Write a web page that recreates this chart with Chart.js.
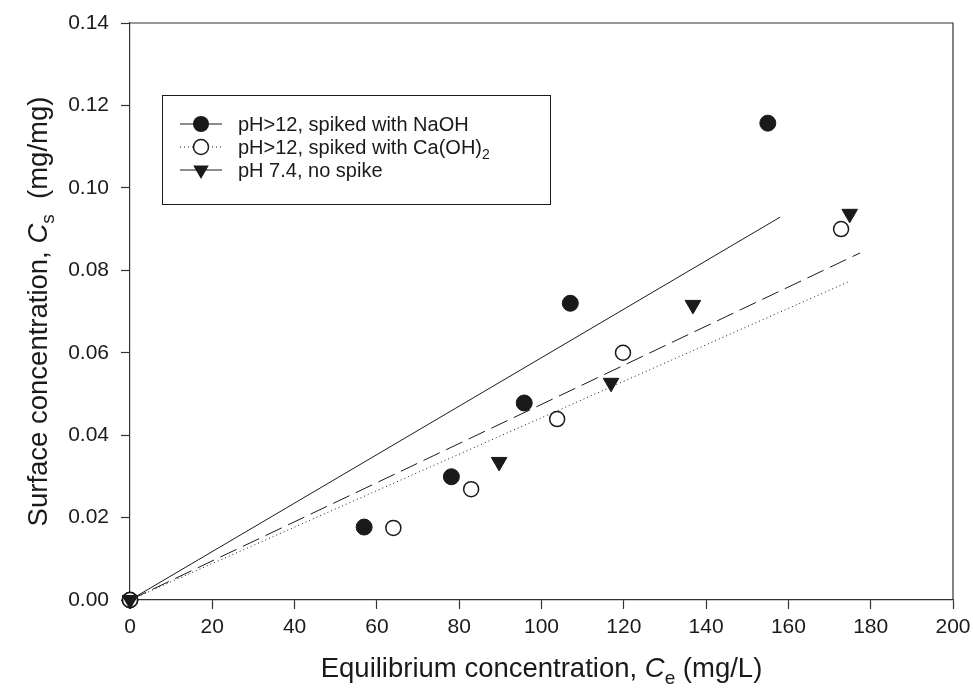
<!DOCTYPE html>
<html lang="en">
<head>
    <meta charset="UTF-8">
    <title>Surface vs equilibrium concentration</title>
    <script src="https://cdn.jsdelivr.net/npm/chart.js"></script>
    <style>
        body { margin: 0; background: #fff; }
    </style>
</head>
<body>
    <canvas id="isoChart" width="973" height="692"></canvas>
    <script>
        // measured points (Ce in mg/L, Cs in mg/mg)
        const naohX = [0, 56.9, 78.1, 95.8, 107.0, 155.0];
        const naohY = [0, 0.0177, 0.0299, 0.0478, 0.0720, 0.1157];
        const caX = [0, 64.0, 82.9, 103.8, 119.8, 172.8];
        const caY = [0, 0.0175, 0.0269, 0.0439, 0.0600, 0.0900];
        const neutX = [0, 89.7, 116.9, 136.8, 174.9];
        const neutY = [0, 0.0335, 0.0527, 0.0716, 0.0937];

        // linear fits through the origin (start / end of each line)
        const naohFitX = [0, 158.0];
        const naohFitY = [0, 0.0929];
        const caFitX = [0, 175.0];
        const caFitY = [0, 0.0774];
        const neutFitX = [0, 177.4];
        const neutFitY = [0, 0.0842];

        const legendLabels = ["pH>12, spiked with NaOH", "pH>12, spiked with Ca(OH)", "pH 7.4, no spike"];

        // axis ranges
        const xRange = [0, 200, 20];
        const yRange = [0, 0.14, 0.02];

        const FONT = "'Liberation Sans', Arial, sans-serif";
        const INK = "#1a1a1a";

        function pts(xs, ys) {
            return xs.map((x, i) => ({ x: x, y: ys[i] }));
        }

        // draws text made of pieces: [text, style] where style is "", "i" or "sub"
        function drawPieces(ctx, pieces, size, x, y, align) {
            const fontFor = (st) => st === "i" ? "italic " + size + "px " + FONT
                : st === "sub" ? Math.round(size * 0.7) + "px " + FONT
                : size + "px " + FONT;
            let total = 0;
            pieces.forEach(([t, st]) => { ctx.font = fontFor(st); total += ctx.measureText(t).width; });
            let cx = align === "center" ? x - total / 2 : x;
            ctx.textAlign = "left";
            ctx.textBaseline = "alphabetic";
            pieces.forEach(([t, st]) => {
                ctx.font = fontFor(st);
                ctx.fillText(t, cx, st === "sub" ? y + size * 0.25 : y);
                cx += ctx.measureText(t).width;
            });
        }

        const framePlugin = {
            id: "frame",
            afterDraw(chart) {
                const ctx = chart.ctx;
                const a = chart.chartArea;
                ctx.save();
                // top and right edges of the box
                ctx.strokeStyle = "#333";
                ctx.lineWidth = 1.2;
                ctx.beginPath();
                ctx.moveTo(a.left, a.top);
                ctx.lineTo(a.right, a.top);
                ctx.lineTo(a.right, a.bottom);
                ctx.stroke();

                // axis titles
                ctx.fillStyle = INK;
                drawPieces(ctx, [["Equilibrium concentration, ", ""], ["C", "i"], ["e", "sub"], [" (mg/L)", ""]],
                    27.5, (a.left + a.right) / 2, 677, "center");
                ctx.save();
                ctx.translate(47, (a.top + a.bottom) / 2);
                ctx.rotate(-Math.PI / 2);
                drawPieces(ctx, [["Surface concentration, ", ""], ["C", "i"], ["s", "sub"], ["  (mg/mg)", ""]],
                    27.5, 0, 0, "center");
                ctx.restore();

                // legend
                const bx = 162.5, by = 95.5, bw = 388, bh = 109;
                ctx.fillStyle = "#fff";
                ctx.fillRect(bx, by, bw, bh);
                ctx.strokeStyle = INK;
                ctx.lineWidth = 1;
                ctx.strokeRect(bx, by, bw, bh);

                const rows = [124, 147, 170];
                const dashes = [[], [1, 3], [18, 7]];
                rows.forEach((ry, i) => {
                    ctx.strokeStyle = INK;
                    ctx.lineWidth = 1;
                    ctx.setLineDash(dashes[i]);
                    ctx.beginPath();
                    ctx.moveTo(180, ry);
                    ctx.lineTo(222, ry);
                    ctx.stroke();
                    ctx.setLineDash([]);
                    ctx.fillStyle = INK;
                    ctx.beginPath();
                    if (i === 0) {
                        ctx.arc(201, ry, 8, 0, Math.PI * 2);
                        ctx.fill();
                    } else if (i === 1) {
                        ctx.fillStyle = "#fff";
                        ctx.arc(201, ry, 7.5, 0, Math.PI * 2);
                        ctx.fill();
                        ctx.lineWidth = 1.5;
                        ctx.stroke();
                    } else {
                        const r = 9;
                        ctx.moveTo(201, ry + r);
                        ctx.lineTo(201 - r * 0.866, ry - r / 2);
                        ctx.lineTo(201 + r * 0.866, ry - r / 2);
                        ctx.closePath();
                        ctx.fill();
                    }
                    ctx.fillStyle = INK;
                    const pieces = i === 1 ? [[legendLabels[i], ""], ["2", "sub"]] : [[legendLabels[i], ""]];
                    drawPieces(ctx, pieces, 20, 238, ry + 7, "left");
                });
                ctx.restore();
            }
        };

        function markerSet(label, data, style, filled, radius, rotation) {
            return {
                label: label,
                data: data,
                showLine: false,
                pointStyle: style,
                pointRadius: radius,
                pointRotation: rotation || 0,
                pointBackgroundColor: filled ? INK : "#fff",
                pointBorderColor: INK,
                pointBorderWidth: filled ? 1 : 1.5,
                clip: false,
            };
        }

        function fitSet(label, data, dash) {
            return {
                label: label,
                data: data,
                showLine: true,
                borderColor: INK,
                borderWidth: 1,
                borderDash: dash,
                pointRadius: 0,
                clip: false,
            };
        }

        new Chart(document.getElementById("isoChart").getContext("2d"), {
            type: "scatter",
            data: {
                datasets: [
                    fitSet("NaOH fit", pts(naohFitX, naohFitY), []),
                    fitSet("Ca(OH)2 fit", pts(caFitX, caFitY), [1, 3]),
                    fitSet("pH 7.4 fit", pts(neutFitX, neutFitY), [18, 7]),
                    markerSet(legendLabels[2], pts(neutX, neutY), "triangle", true, 9, 180),
                    markerSet(legendLabels[1] + "2", pts(caX, caY), "circle", false, 7.5),
                    markerSet(legendLabels[0], pts(naohX, naohY), "circle", true, 8),
                ],
            },
            options: {
                responsive: false,
                animation: false,
                layout: { padding: { top: 23, right: 20, left: 0, bottom: 0 } },
                plugins: {
                    legend: { display: false },
                    tooltip: { enabled: false },
                },
                scales: {
                    x: {
                        type: "linear",
                        min: xRange[0],
                        max: xRange[1],
                        afterFit: (s) => { s.height = 92; s.paddingRight = 0; s.paddingLeft = 0; },
                        ticks: {
                            stepSize: xRange[2],
                            color: INK,
                            padding: 6,
                            maxRotation: 0,
                            font: { family: FONT, size: 21 },
                        },
                        grid: { drawOnChartArea: false, tickLength: 9, color: "#333", tickWidth: 1.2 },
                        border: { color: "#333", width: 1.2 },
                    },
                    y: {
                        type: "linear",
                        min: yRange[0],
                        max: yRange[1],
                        afterFit: (s) => { s.width = 130; s.paddingTop = 0; s.paddingBottom = 0; },
                        ticks: {
                            stepSize: yRange[2],
                            color: INK,
                            padding: 12,
                            font: { family: FONT, size: 21 },
                            callback: (v) => Number(v).toFixed(2),
                        },
                        grid: { drawOnChartArea: false, tickLength: 9, color: "#333", tickWidth: 1.2 },
                        border: { color: "#333", width: 1.2 },
                    },
                },
            },
            plugins: [framePlugin],
        });
    </script>
</body>
</html>
